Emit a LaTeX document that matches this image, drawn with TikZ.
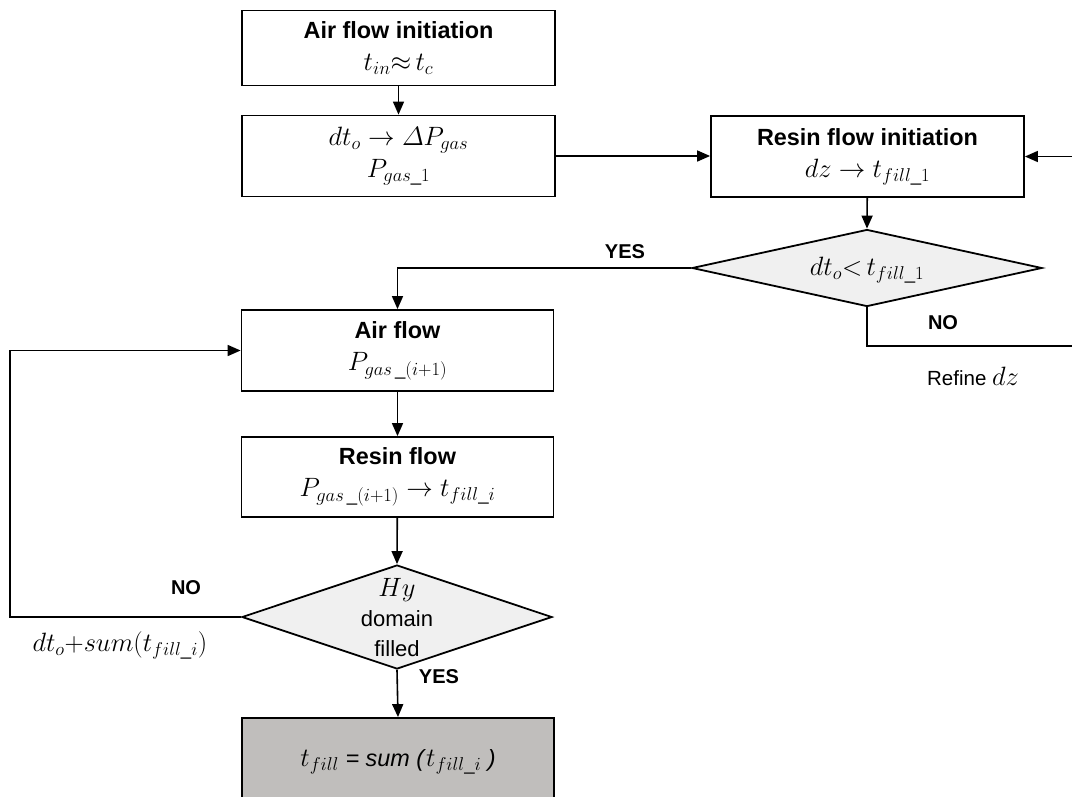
\RequirePackage{fix-cm}% scalable math fonts at any size
\documentclass[tikz,border=0pt]{standalone}
\usepackage{amsmath}
\usepackage{fontspec}
\newfontfamily\arial{Liberation Sans}
\usetikzlibrary{arrows.meta,shapes.geometric}

% formulas are set a little larger than the sans text around them
\newcommand\fmla[1]{{\fontsize{26.5}{32}\selectfont$#1$}}

\definecolor{decfill}{HTML}{F0F0F0}
\definecolor{endfill}{HTML}{C0BEBC}

\begin{document}
\begin{tikzpicture}[x=1pt,y=-1pt,
  boxtext/.style={font=\arial\fontsize{23.4}{32}\selectfont},
  procbox/.style={draw, line width=1.8pt, minimum width=313pt, minimum height=#1,
    inner sep=0pt, align=center, boxtext},
  decision/.style={diamond, draw, line width=1.8pt, fill=decfill, inner sep=0pt},
  conn/.style={line width=1.6pt, -{Triangle[length=13pt,width=11pt]}},
  plain/.style={line width=1.6pt},
  lbl/.style={font=\arial\bfseries\fontsize{20}{24}\selectfont, inner sep=0pt},
  note/.style={font=\arial\fontsize{20.5}{24}\selectfont, inner sep=0pt},
]
\useasboundingbox (0,0) rectangle (1072,796);
\clip (0,0) rectangle (1072,796);

% process boxes
\node[procbox=75pt] (init) at (398.5,48)
  {\textbf{Air flow initiation}\\ \fmla{t_{in}{\approx}\, t_c}};
\node[procbox=81pt] (dp) at (398.5,156)
  {\fmla{dt_o \rightarrow \varDelta P_{gas}}\\ \fmla{P_{gas\_1}}};
\node[procbox=81pt] (rinit) at (867.5,156.5)
  {\textbf{Resin flow initiation}\\ \fmla{dz \rightarrow t_{fill\_1}}};
\node[procbox=81pt, minimum width=312pt] (air) at (397.5,350.5)
  {\textbf{Air flow}\\ \fmla{P_{gas\,\_(i+1)}}};
\node[procbox=80pt, minimum width=312pt] (resin) at (397.5,477)
  {\textbf{Resin flow}\\ \fmla{P_{gas\,\_(i+1)} \rightarrow t_{fill\_i}}};

% decisions
\node[decision, minimum width=350pt, minimum height=77pt] (d1) at (867,268) {};
\node[boxtext, inner sep=0pt] (d1text) at (867,270) {\fmla{dt_o{<}\, t_{fill\_1}}};
\node[decision, minimum width=310pt, minimum height=104pt] (d2) at (397,617) {};
\node[boxtext, inner sep=0pt, align=center, font=\arial\fontsize{22}{30}\selectfont] (d2text) at (397,618)
  {\fmla{Hy}\\ domain\\ filled};

% end box, running past the lower edge
\node[draw, line width=1.8pt, fill=endfill, minimum width=312pt, minimum height=88pt,
  inner sep=0pt, boxtext] (fill) at (398,762)
  {\fmla{t_{fill}} \textit{= sum (}\fmla{t_{fill\_i}} \textit{)}};

% free ends of the refine loop
\coordinate (rin) at (1072,156.5);
\coordinate (rout) at (1072,346);
% corner of the outer loop
\coordinate (loopx) at (10,617);

% connectors
\draw[conn] (init) -- (dp);
\draw[conn] (dp.east) -- (dp.east -| rinit.west);
\draw[conn] (rin) -- (rinit.east);
\draw[conn] (rinit) -- (d1.north);
\draw[conn] (d1.west) -| (air.north);
\draw[plain] (d1.south) |- (rout);
\draw[conn] (air) -- (resin);
\draw[conn] (resin) -- (d2.north);
\draw[conn] (d2.west) -- (loopx) |- (air.west);
\draw[conn] (d2.south) -- (fill.north);

% branch labels
\node[lbl] (yes1) at (625,252) {YES};
\node[lbl] (no1) at (943,323) {NO};
\node[note] (refine) at (973,376) {Refine \fmla{dz}};
\node[lbl] (no2) at (186,588) {NO};
\node[note] (sumlbl) at (120,645) {\fmla{dt_o{+}sum(t_{fill\_i})}};
\node[lbl] (yes2) at (439,677) {YES};
\end{tikzpicture}
\end{document}
